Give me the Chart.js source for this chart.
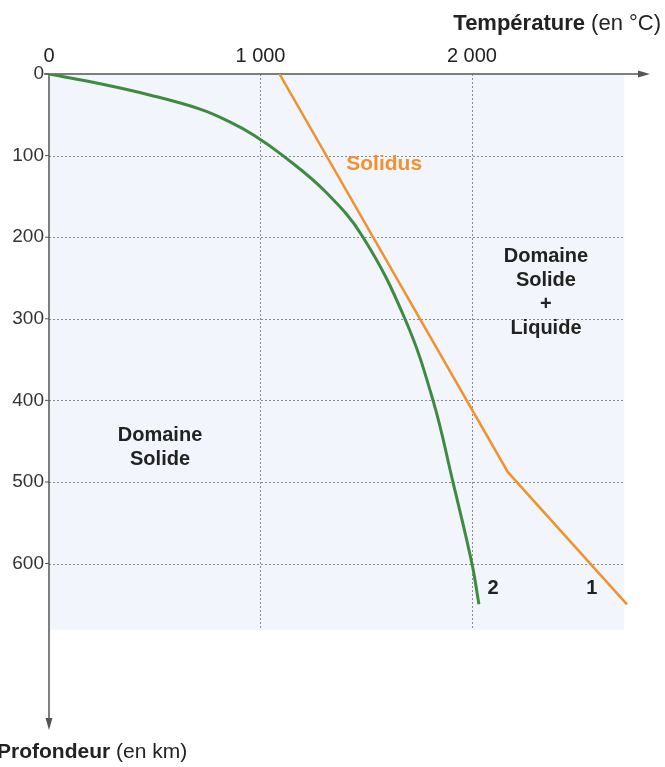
<!DOCTYPE html>
<html lang="fr">
<head>
<meta charset="utf-8">
<title>Géotherme et solidus</title>
<script src="https://cdn.jsdelivr.net/npm/chart.js@4.4.1/dist/chart.umd.min.js"></script>
<style>
  html, body { margin: 0; padding: 0; background: #ffffff; }
  #wrap { position: relative; width: 665px; height: 767px; }
</style>
</head>
<body>
<div id="wrap"><canvas id="c" width="665" height="767"></canvas></div>
<script>
// Géotherme (courbe 2) : température (°C) en fonction de la profondeur (km)
const geothermTemp  = [0, 241, 480, 714, 850, 969, 1106, 1310, 1485, 1683, 1816, 1910, 2000, 2033];
const geothermDepth = [0, 12, 26, 43, 58, 75, 100, 145, 200, 300, 400, 500, 600, 650];

// Solidus de la péridotite (courbe 1)
const solidusTemp  = [1090, 2170, 2733];
const solidusDepth = [0, 488, 650];

// Graduations
const tempTicks  = [0, 1000, 2000];
const depthTicks = [0, 100, 200, 300, 400, 500, 600];

// Étendue des axes et du domaine coloré
const tempAxisMax = 2842, depthAxisMax = 804;
const tempAreaMax = 2720, depthAreaMax = 681;

const GREEN = '#3d8b40';
const ORANGE = '#f0922e';
const TEXT = '#222222';
const FONT = '"Liberation Sans", Arial, sans-serif';

const toPoints = (xs, ys) => xs.map((x, i) => ({ x, y: ys[i] }));

// Fond bleuté, quadrillage pointillé, axes fléchés et textes du diagramme
const decor = {
  id: 'decor',
  beforeDatasetsDraw(chart) {
    const { ctx, scales: { x, y } } = chart;
    const x0 = x.getPixelForValue(0), y0 = y.getPixelForValue(0);
    const x1 = x.getPixelForValue(tempAreaMax), y1 = y.getPixelForValue(depthAreaMax);
    ctx.save();
    ctx.fillStyle = '#f2f5fb';
    ctx.fillRect(x0, y0, x1 - x0, y1 - y0);

    ctx.strokeStyle = '#8a8a8a';
    ctx.lineWidth = 1;
    ctx.setLineDash([2, 2]);
    depthTicks.filter(v => v > 0).forEach(v => {
      const py = Math.round(y.getPixelForValue(v)) + 0.5;
      ctx.beginPath(); ctx.moveTo(x0, py); ctx.lineTo(x1, py); ctx.stroke();
    });
    tempTicks.filter(v => v > 0).forEach(v => {
      const px = Math.round(x.getPixelForValue(v)) + 0.5;
      ctx.beginPath(); ctx.moveTo(px, y0); ctx.lineTo(px, y1); ctx.stroke();
    });
    ctx.setLineDash([]);

    // axes
    const xe = x.getPixelForValue(tempAxisMax), ye = y.getPixelForValue(depthAxisMax);
    ctx.strokeStyle = '#555555';
    ctx.fillStyle = '#555555';
    ctx.lineWidth = 1.5;
    ctx.beginPath(); ctx.moveTo(x0 - 5, y0); ctx.lineTo(xe - 6, y0); ctx.stroke();
    ctx.beginPath(); ctx.moveTo(x0, y0); ctx.lineTo(x0, ye - 6); ctx.stroke();
    ctx.beginPath(); ctx.moveTo(xe, y0); ctx.lineTo(xe - 12, y0 - 3.5); ctx.lineTo(xe - 12, y0 + 3.5); ctx.closePath(); ctx.fill();
    ctx.beginPath(); ctx.moveTo(x0, ye); ctx.lineTo(x0 - 3.5, ye - 12); ctx.lineTo(x0 + 3.5, ye - 12); ctx.closePath(); ctx.fill();
    // petits traits de graduation sur l'axe vertical
    ctx.lineWidth = 1;
    depthTicks.forEach(v => {
      const py = y.getPixelForValue(v);
      ctx.beginPath(); ctx.moveTo(x0 - 4, py); ctx.lineTo(x0, py); ctx.stroke();
    });
    ctx.restore();
  },
  afterDatasetsDraw(chart) {
    const { ctx, scales: { x, y } } = chart;
    const at = (t, d) => [x.getPixelForValue(t), y.getPixelForValue(d)];
    ctx.save();
    ctx.textAlign = 'center';
    ctx.textBaseline = 'middle';

    ctx.font = 'bold 21px ' + FONT;
    ctx.fillStyle = ORANGE;
    let [px, py] = at(1585, 110);
    ctx.fillText('Solidus', px, py);

    ctx.fillStyle = TEXT;
    ctx.font = 'bold 20px ' + FONT;
    [px, py] = at(2350, 224);
    ['Domaine', 'Solide', '+', 'Liquide'].forEach((s, i) => ctx.fillText(s, px, py + i * 24));
    [px, py] = at(525, 443);
    ['Domaine', 'Solide'].forEach((s, i) => ctx.fillText(s, px, py + i * 24));

    ctx.font = 'bold 20px ' + FONT;
    [px, py] = at(2100, 631);
    ctx.fillText('2', px, py);
    [px, py] = at(2567, 631);
    ctx.fillText('1', px, py);

    // titres des axes
    ctx.textBaseline = 'alphabetic';
    ctx.textAlign = 'left';
    let bold = 'bold 22px ' + FONT;
    let reg = '22px ' + FONT;
    ctx.font = bold; const w1 = ctx.measureText('Température').width;
    ctx.font = reg; const w2 = ctx.measureText(' (en °C)').width;
    const sx = 661 - w1 - w2;
    ctx.font = bold; ctx.fillText('Température', sx, 30);
    ctx.font = reg; ctx.fillText(' (en °C)', sx + w1, 30);

    bold = 'bold 21px ' + FONT;
    reg = '21px ' + FONT;
    ctx.font = bold; const w3 = ctx.measureText('Profondeur').width;
    ctx.fillText('Profondeur', -3, 758);
    ctx.font = reg; ctx.fillText(' (en km)', -3 + w3, 758);
    ctx.restore();
  }
};

new Chart(document.getElementById('c'), {
  type: 'scatter',
  data: {
    datasets: [
      {
        label: 'Géotherme (2)',
        data: toPoints(geothermTemp, geothermDepth),
        showLine: true,
        borderColor: GREEN,
        borderWidth: 3,
        pointRadius: 0,
        tension: 0.4
      },
      {
        label: 'Solidus (1)',
        data: toPoints(solidusTemp, solidusDepth),
        showLine: true,
        borderColor: ORANGE,
        borderWidth: 2.5,
        pointRadius: 0,
        tension: 0
      }
    ]
  },
  options: {
    responsive: false,
    animation: false,
    layout: { padding: { left: 0, top: 0, right: 15, bottom: 37 } },
    plugins: { legend: { display: false }, tooltip: { enabled: false } },
    scales: {
      x: {
        type: 'linear',
        position: 'top',
        min: 0,
        max: tempAxisMax,
        grid: { display: false, drawTicks: false },
        border: { display: false },
        afterBuildTicks: s => { s.ticks = tempTicks.map(v => ({ value: v })); },
        afterFit: s => { s.height = 74; },
        ticks: {
          padding: 6,
          color: TEXT,
          font: { family: FONT, size: 20 },
          callback: v => String(v).replace(/\B(?=(\d{3})+(?!\d))/g, ' ')
        }
      },
      y: {
        type: 'linear',
        position: 'left',
        reverse: true,
        min: 0,
        max: depthAxisMax,
        grid: { display: false, drawTicks: false },
        border: { display: false },
        afterBuildTicks: s => { s.ticks = depthTicks.map(v => ({ value: v })); },
        afterFit: s => { s.width = 49; },
        ticks: {
          padding: 5,
          color: '#333333',
          font: { family: '"Liberation Sans Narrow", ' + FONT, size: 19 }
        }
      }
    }
  },
  plugins: [decor]
});
</script>
</body>
</html>
